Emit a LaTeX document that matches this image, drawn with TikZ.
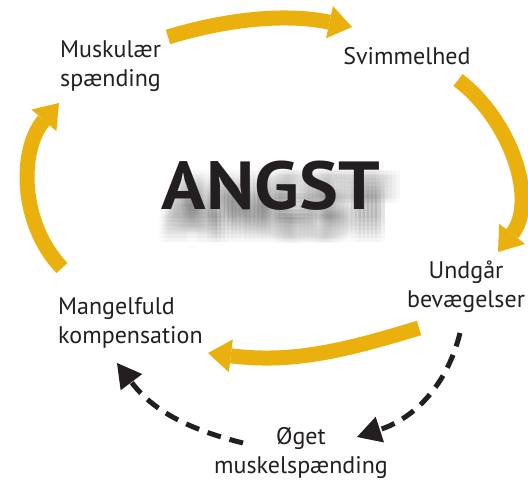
\documentclass[tikz,border=0pt]{standalone}
\usepackage{fontspec}
\setmainfont{PT Sans}
\newfontfamily\angstfont[FakeStretch=1.08]{PT Sans Bold}
\usepackage{tikz}
\usetikzlibrary{arrows.meta}
\usepackage{xcolor}
\definecolor{angstgelb}{RGB}{234,177,14}
\definecolor{textgrau}{RGB}{35,31,32}

\begin{document}
\begin{tikzpicture}[x=1pt, y=1pt]
        % ================= 样式定义 =================
        \tikzset{
            txt/.style={inner sep=0pt, text=textgrau, font=\fontsize{24}{29}\selectfont},
            bigtxt/.style={inner sep=0pt, text=textgrau, font=\fontsize{68}{72}\angstfont},
            shadowtxt/.style={inner sep=0pt, text=black, opacity=0.014, font=\fontsize{68}{72}\angstfont},
            cycarrow/.style={line width=15pt, draw=angstgelb, -{Triangle[width=33pt, length=23pt, line width=0pt]}},
            dasharrow/.style={line width=5pt, draw=textgrau, dash pattern=on 14pt off 9pt, -{Triangle[width=27pt, length=24pt, line width=0pt]}}
        }

        \useasboundingbox (0,0) rectangle (528,482);

        % ================= 中心: ANGST + 阴影 =================
        % 阴影: 多次错位叠加, 看起来模糊
        \foreach \dx in {-12,-8,...,12} {
            \foreach \dy in {-12,-8,...,12} {
                \node[shadowtxt] (sh\dx\dy) at (280+\dx, 275+\dy) {ANGST};
            }
        }
        \node[bigtxt] (angst) at (271,296) {ANGST};

        % ================= 文字节点 =================
        \node[txt, anchor=west, align=left] (musk) at (60,416) {Muskulær\\spænding};   % 左上
        \node[txt] (svim) at (407,426) {Svimmelhed};                                    % 右上
        \node[txt, align=center] (undg) at (466,195) {Undgår\\bevægelser};             % 右下
        \node[txt, anchor=west, align=left] (mang) at (58,159) {Mangelfuld\\kompensation}; % 左下
        \node[txt, align=center] (oget) at (301,29) {Øget\\muskelspænding};            % 底部

        % 箭头端点
        \coordinate (musk-out) at (168,445);
        \coordinate (svim-in)  at (352,455);
        \coordinate (svim-out) at (458,402);
        \coordinate (undg-in)  at (498,230);
        \coordinate (undg-out) at (419,154);
        \coordinate (mang-in)  at (208,129);
        \coordinate (mang-out) at (62,214);
        \coordinate (musk-in)  at (59,379);
        \coordinate (undg-dash) at (460,149);
        \coordinate (oget-in)  at (357,45);
        \coordinate (oget-out) at (243,39);
        \coordinate (mang-dash) at (117,119);

        % ================= 黄色循环箭头 =================
        \draw[cycarrow] (musk-out) to[out=17, in=168, looseness=0.9] (svim-in);
        \draw[cycarrow] (svim-out) to[out=-37, in=52, looseness=0.95] (undg-in);
        \draw[cycarrow] (undg-out) to[out=197, in=-7] (mang-in);
        \draw[cycarrow] (mang-out) to[out=134, in=229, looseness=0.95] (musk-in);

        % ================= 虚线箭头 =================
        \draw[dasharrow] (undg-dash) to[out=-104, in=18] (oget-in);
        \draw[dasharrow] (oget-out) to[out=166, in=-53] (mang-dash);

    \end{tikzpicture}
\end{document}
